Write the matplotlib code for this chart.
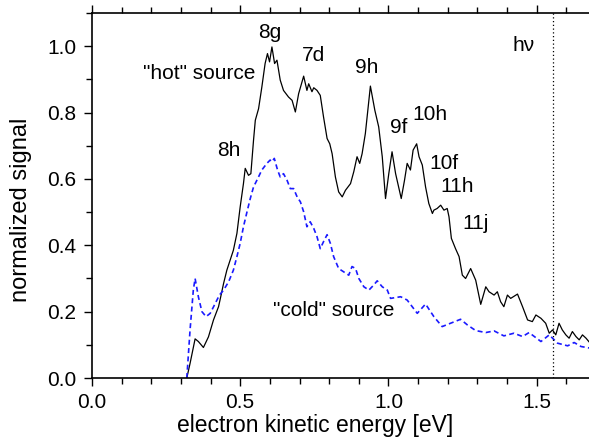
import matplotlib
matplotlib.use("Agg")
import matplotlib.pyplot as plt
from matplotlib.ticker import MultipleLocator

plt.rcParams['font.family'] = ['Liberation Sans', 'DejaVu Sans']

# "hot" source spectrum (black solid)
hot_e = [0.320, 0.331, 0.348, 0.359, 0.376, 0.393, 0.410, 0.427, 0.432, 0.444,
         0.455, 0.466, 0.477, 0.489, 0.500, 0.511, 0.517, 0.528, 0.536, 0.545,
         0.551, 0.562, 0.573, 0.584, 0.592, 0.599, 0.607, 0.616, 0.624, 0.635,
         0.646, 0.663, 0.675, 0.686, 0.697, 0.714, 0.725, 0.731, 0.742, 0.748,
         0.759, 0.770, 0.781, 0.793, 0.802, 0.810, 0.821, 0.832, 0.844, 0.855,
         0.872, 0.883, 0.894, 0.903, 0.911, 0.922, 0.939, 0.954, 0.967, 0.979,
         0.990, 1.001, 1.012, 1.024, 1.043, 1.054, 1.063, 1.074, 1.083, 1.095,
         1.103, 1.114, 1.125, 1.136, 1.148, 1.153, 1.164, 1.176, 1.187, 1.198,
         1.204, 1.212, 1.226, 1.238, 1.249, 1.260, 1.277, 1.294, 1.311, 1.328,
         1.339, 1.356, 1.367, 1.378, 1.389, 1.401, 1.412, 1.435, 1.452, 1.469,
         1.485, 1.497, 1.514, 1.530, 1.542, 1.553, 1.564, 1.575, 1.586, 1.598,
         1.609, 1.620, 1.632, 1.643, 1.654, 1.666, 1.680]
hot_sig = [0.000, 0.044, 0.118, 0.110, 0.092, 0.124, 0.175, 0.215, 0.235, 0.285,
           0.325, 0.355, 0.385, 0.436, 0.516, 0.586, 0.632, 0.611, 0.616, 0.717,
           0.777, 0.812, 0.877, 0.948, 0.978, 0.953, 0.998, 0.948, 0.958, 0.898,
           0.867, 0.847, 0.837, 0.802, 0.857, 0.910, 0.867, 0.887, 0.863, 0.875,
           0.867, 0.852, 0.787, 0.722, 0.706, 0.676, 0.606, 0.561, 0.546, 0.566,
           0.586, 0.622, 0.667, 0.647, 0.676, 0.737, 0.880, 0.807, 0.757, 0.667,
           0.541, 0.616, 0.682, 0.616, 0.541, 0.596, 0.647, 0.627, 0.687, 0.706,
           0.667, 0.642, 0.576, 0.526, 0.496, 0.506, 0.511, 0.521, 0.506, 0.511,
           0.486, 0.421, 0.390, 0.366, 0.310, 0.300, 0.330, 0.295, 0.222, 0.275,
           0.260, 0.250, 0.260, 0.230, 0.215, 0.250, 0.240, 0.253, 0.215, 0.175,
           0.170, 0.190, 0.180, 0.165, 0.135, 0.145, 0.130, 0.165, 0.145, 0.130,
           0.120, 0.140, 0.125, 0.115, 0.130, 0.120, 0.105]

# "cold" source spectrum (blue dashed)
cold_e = [0.320, 0.331, 0.342, 0.348, 0.359, 0.371, 0.385, 0.399, 0.416, 0.430,
          0.444, 0.461, 0.477, 0.489, 0.500, 0.511, 0.523, 0.534, 0.545, 0.559,
          0.573, 0.590, 0.601, 0.607, 0.615, 0.626, 0.635, 0.646, 0.658, 0.669,
          0.680, 0.692, 0.703, 0.714, 0.725, 0.736, 0.748, 0.759, 0.770, 0.781,
          0.793, 0.804, 0.815, 0.832, 0.849, 0.866, 0.877, 0.889, 0.900, 0.917,
          0.934, 0.950, 0.962, 0.979, 0.996, 1.007, 1.041, 1.063, 1.097, 1.125,
          1.153, 1.181, 1.209, 1.243, 1.266, 1.294, 1.328, 1.356, 1.389, 1.423,
          1.452, 1.474, 1.514, 1.542, 1.570, 1.604, 1.626, 1.649, 1.680]
cold_sig = [0.000, 0.145, 0.265, 0.300, 0.245, 0.200, 0.185, 0.195, 0.225, 0.250,
            0.265, 0.290, 0.325, 0.366, 0.406, 0.456, 0.501, 0.541, 0.576, 0.601,
            0.627, 0.647, 0.657, 0.652, 0.662, 0.627, 0.606, 0.616, 0.596, 0.571,
            0.571, 0.546, 0.531, 0.501, 0.456, 0.471, 0.451, 0.426, 0.390, 0.411,
            0.432, 0.406, 0.366, 0.330, 0.320, 0.310, 0.336, 0.330, 0.300, 0.275,
            0.265, 0.280, 0.293, 0.275, 0.265, 0.240, 0.245, 0.235, 0.195, 0.223,
            0.185, 0.155, 0.165, 0.177, 0.160, 0.143, 0.137, 0.142, 0.127, 0.135,
            0.125, 0.137, 0.110, 0.130, 0.105, 0.097, 0.107, 0.095, 0.090]

photon_energy = 1.555

peak_labels = ["8g", "7d", "9h", "9f", "10h", "10f", "11h", "11j", "8h"]
peak_x = [0.601, 0.747, 0.926, 1.034, 1.139, 1.186, 1.233, 1.294, 0.463]
peak_y = [1.042, 0.973, 0.937, 0.756, 0.795, 0.648, 0.578, 0.467, 0.687]

fig = plt.figure(figsize=(5.89, 4.37), dpi=100)
ax = fig.add_axes([0.156, 0.135, 0.846, 0.835])

ax.plot(hot_e, hot_sig, color="black", linewidth=0.9)
ax.plot(cold_e, cold_sig, color="#1a1aff", linewidth=1.2, linestyle=(0, (3, 2)))
ax.axvline(photon_energy, color="black", linewidth=0.9, linestyle=(0, (1, 2)))

fs = 15
for lab, px, py in zip(peak_labels, peak_x, peak_y):
    ax.text(px, py, lab, ha="center", va="center", fontsize=fs)
ax.text(0.361, 0.919, '"hot" source', ha="center", va="center", fontsize=fs)
ax.text(0.814, 0.202, '"cold" source', ha="center", va="center", fontsize=fs)
ax.text(1.456, 1.003, "h\u03bd", ha="center", va="center", fontsize=fs)

ax.set_xlim(0.0, 1.68)
ax.set_ylim(0.0, 1.1)
ax.xaxis.set_major_locator(MultipleLocator(0.5))
ax.xaxis.set_minor_locator(MultipleLocator(0.1))
ax.yaxis.set_major_locator(MultipleLocator(0.2))
ax.yaxis.set_minor_locator(MultipleLocator(0.1))
ax.tick_params(which="both", direction="out", top=True, right=False,
               labelsize=fs, width=1)
ax.tick_params(which="major", length=6, pad=5)
ax.tick_params(which="minor", length=4)
ax.spines["right"].set_visible(False)
for s in ["left", "bottom", "top"]:
    ax.spines[s].set_linewidth(1.2)

ax.set_xlabel("electron kinetic energy [eV]", fontsize=16.5)
ax.set_ylabel("normalized signal", fontsize=17)
ax.xaxis.set_label_coords(0.449, -0.098)
ax.yaxis.set_label_coords(-0.12, 0.46)

fig.savefig("out.png", dpi=100)
